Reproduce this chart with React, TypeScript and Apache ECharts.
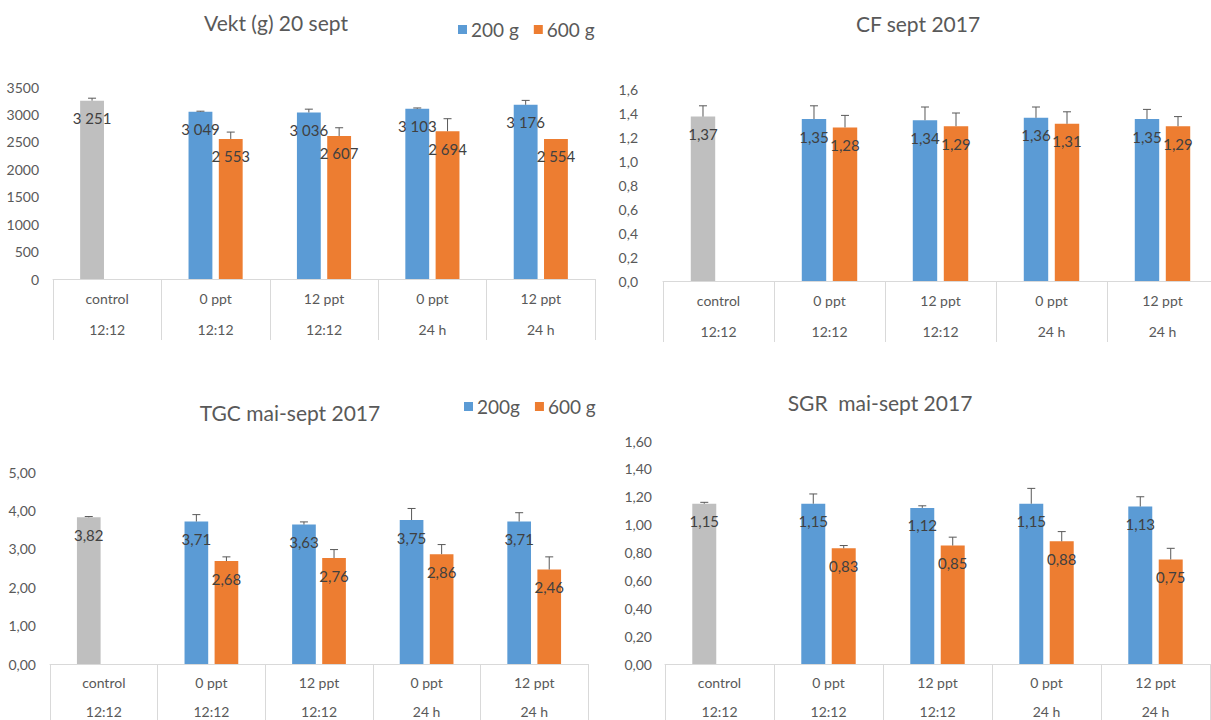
import React, { useEffect, useRef } from "react";
import * as echarts from "echarts";

const salinity = ["control", "0 ppt", "12 ppt", "0 ppt", "12 ppt"];
const photoperiod = ["12:12", "12:12", "12:12", "24 h", "24 h"];

const vekt200 = [3251, 3049, 3036, 3103, 3176];
const vekt600 = [null, 2553, 2607, 2694, 2554];
const vekt200Err = [45, 10, 60, 15, 80];
const vekt600Err = [null, 125, 150, 228, null];

const cf200 = [1.37, 1.35, 1.34, 1.36, 1.35];
const cf600 = [null, 1.28, 1.29, 1.31, 1.29];
const cf200Err = [0.09, 0.11, 0.11, 0.09, 0.08];
const cf600Err = [null, 0.1, 0.11, 0.1, 0.08];

const tgc200 = [3.82, 3.71, 3.63, 3.75, 3.71];
const tgc600 = [null, 2.68, 2.76, 2.86, 2.46];
const tgc200Err = [0.02, 0.18, 0.07, 0.3, 0.23];
const tgc600Err = [null, 0.11, 0.22, 0.25, 0.33];

const sgr200 = [1.15, 1.15, 1.12, 1.15, 1.13];
const sgr600 = [null, 0.83, 0.85, 0.88, 0.75];
const sgr200Err = [0.01, 0.07, 0.015, 0.11, 0.07];
const sgr600Err = [null, 0.02, 0.06, 0.07, 0.08];

const titles = ["Vekt (g) 20 sept", "CF sept 2017", "TGC mai-sept 2017", "SGR  mai-sept 2017"];
const legendTop = ["200 g", "600 g"];
const legendBottom = ["200g", "600 g"];

const BLUE = "#5B9BD5";
const ORANGE = "#ED7D31";
const GRAY = "#BFBFBF";
const TEXT = "#595959";
const FONT = "Lato, 'Noto Sans', sans-serif";
const BAR_W = 0.22;
const BAR_GAP = 0.27;

const categories = salinity.map((s, i) => s + "\n" + photoperiod[i]);

function fmtThousands(v: number) {
  const r = Math.round(v);
  if (r >= 1000) {
    const rest = String(r % 1000).padStart(3, "0");
    return Math.floor(r / 1000) + " " + rest;
  }
  return String(r);
}
function fmtComma(d: number) {
  return (v: number) => v.toFixed(d).replace(".", ",");
}

function barSeries(name: string, vals: (number | null)[], idx: number, color: string, fmt: (v: number) => string, grayFirst: boolean) {
  return {
    type: "bar",
    name,
    xAxisIndex: idx,
    yAxisIndex: idx,
    barWidth: BAR_W * 100 + "%",
    barGap: BAR_GAP * 100 + "%",
    itemStyle: { color },
    data: vals.map((v, i) =>
      v == null ? "-" : grayFirst && i === 0 ? { value: v, itemStyle: { color: GRAY } } : v
    ),
    label: {
      show: true,
      position: "insideTop",
      distance: 10,
      color: "#404040",
      fontSize: 15,
      fontFamily: FONT,
      formatter: (p: any) => fmt(Number(p.value)),
    },
    z: 2,
  };
}

function errSeries(vals: (number | null)[], errs: (number | null)[], idx: number, sign: number) {
  const data: number[][] = [];
  vals.forEach((v, i) => {
    const e = errs[i];
    if (v != null && e != null) data.push([i, v, e]);
  });
  return {
    type: "custom",
    xAxisIndex: idx,
    yAxisIndex: idx,
    silent: true,
    z: 5,
    encode: { x: 0, y: 1 },
    data,
    renderItem: (params: any, api: any) => {
      const v = api.value(1);
      const e = api.value(2);
      const c = api.value(0);
      const band = api.size([1, 0])[0];
      const off = (sign * band * BAR_W * (1 + BAR_GAP)) / 2;
      const p0 = api.coord([c, v]);
      const p1 = api.coord([c, v + e]);
      const x = p0[0] + off;
      return {
        type: "group",
        children: [
          { type: "line", shape: { x1: x, y1: p0[1], x2: x, y2: p1[1] }, style: { stroke: TEXT, lineWidth: 1 } },
          { type: "line", shape: { x1: x - 4, y1: p1[1], x2: x + 4, y2: p1[1] }, style: { stroke: TEXT, lineWidth: 1 } },
        ],
      };
    },
  };
}

export default function App() {
  const ref = useRef<HTMLDivElement>(null);
  useEffect(() => {
    if (!ref.current) return;
    const chart = echarts.init(ref.current, null, { renderer: "svg" });

    const grids = [
      { left: 53, top: 87, width: 542, height: 192, outerBoundsMode: "none", containLabel: false },
      { left: 663, top: 89, width: 555, height: 192, outerBoundsMode: "none", containLabel: false },
      { left: 50, top: 472, width: 538, height: 192, outerBoundsMode: "none", containLabel: false },
      { left: 665, top: 441, width: 545, height: 223, outerBoundsMode: "none", containLabel: false },
    ];
    const yCfg = [
      { max: 3500, interval: 500, fmt: (v: number) => String(v), margin: 14 },
      { max: 1.6, interval: 0.2, fmt: fmtComma(1), margin: 25 },
      { max: 5, interval: 1, fmt: fmtComma(2), margin: 14 },
      { max: 1.6, interval: 0.2, fmt: fmtComma(2), margin: 13 },
    ];
    const labelLH = [31, 31, 29, 29];

    const xAxis = grids.map((_, i) => ({
      type: "category",
      gridIndex: i,
      data: categories,
      axisLine: { show: true, lineStyle: { color: "#D9D9D9", width: 1 } },
      axisTick: { show: true, length: 61, interval: 0, lineStyle: { color: "#D9D9D9" } },
      axisLabel: {
        interval: 0,
        color: TEXT,
        fontSize: 14,
        fontFamily: FONT,
        lineHeight: labelLH[i],
        margin: 4,
      },
    }));
    const yAxis = yCfg.map((c, i) => ({
      type: "value",
      gridIndex: i,
      min: 0,
      max: c.max,
      interval: c.interval,
      axisLine: { show: false },
      axisTick: { show: false },
      splitLine: { show: false },
      axisLabel: {
        color: TEXT,
        fontSize: 14,
        fontFamily: FONT,
        margin: c.margin,
        formatter: (v: number) => c.fmt(v),
      },
    }));

    const series: any[] = [
      barSeries("200 g", vekt200, 0, BLUE, fmtThousands, true),
      barSeries("600 g", vekt600, 0, ORANGE, fmtThousands, false),
      errSeries(vekt200, vekt200Err, 0, -1),
      errSeries(vekt600, vekt600Err, 0, 1),
      barSeries("200 g", cf200, 1, BLUE, fmtComma(2), true),
      barSeries("600 g", cf600, 1, ORANGE, fmtComma(2), false),
      errSeries(cf200, cf200Err, 1, -1),
      errSeries(cf600, cf600Err, 1, 1),
      barSeries("200g", tgc200, 2, BLUE, fmtComma(2), true),
      barSeries("600 g", tgc600, 2, ORANGE, fmtComma(2), false),
      errSeries(tgc200, tgc200Err, 2, -1),
      errSeries(tgc600, tgc600Err, 2, 1),
      barSeries("200g", sgr200, 3, BLUE, fmtComma(2), true),
      barSeries("600 g", sgr600, 3, ORANGE, fmtComma(2), false),
      errSeries(sgr200, sgr200Err, 3, -1),
      errSeries(sgr600, sgr600Err, 3, 1),
    ];

    const titlePos = [
      [276, 22],
      [918, 23],
      [290, 412],
      [880, 402],
    ];

    const legendStyle = {
      icon: "rect",
      itemWidth: 9,
      itemHeight: 9,
      itemGap: 15,
      selectedMode: false,
      textStyle: { color: TEXT, fontSize: 19, fontFamily: FONT, padding: [0, 0, 0, -1] },
    };

    chart.setOption({
      animation: false,
      backgroundColor: "#ffffff",
      grid: grids,
      xAxis,
      yAxis,
      series,
      legend: [
        { ...legendStyle, data: legendTop, left: 453, top: 15 },
        { ...legendStyle, data: legendBottom, left: 459, top: 392 },
      ],
      graphic: titles.map((t, i) => ({
        type: "text",
        x: titlePos[i][0],
        y: titlePos[i][1],
        style: {
          text: t,
          fill: TEXT,
          font: `21px ${FONT}`,
          textAlign: "center",
          textVerticalAlign: "middle",
        },
      })),
    });
    return () => chart.dispose();
  }, []);
  return <div ref={ref} style={{ position: "absolute", left: 0, top: 0, width: 1211, height: 720 }} />;
}
